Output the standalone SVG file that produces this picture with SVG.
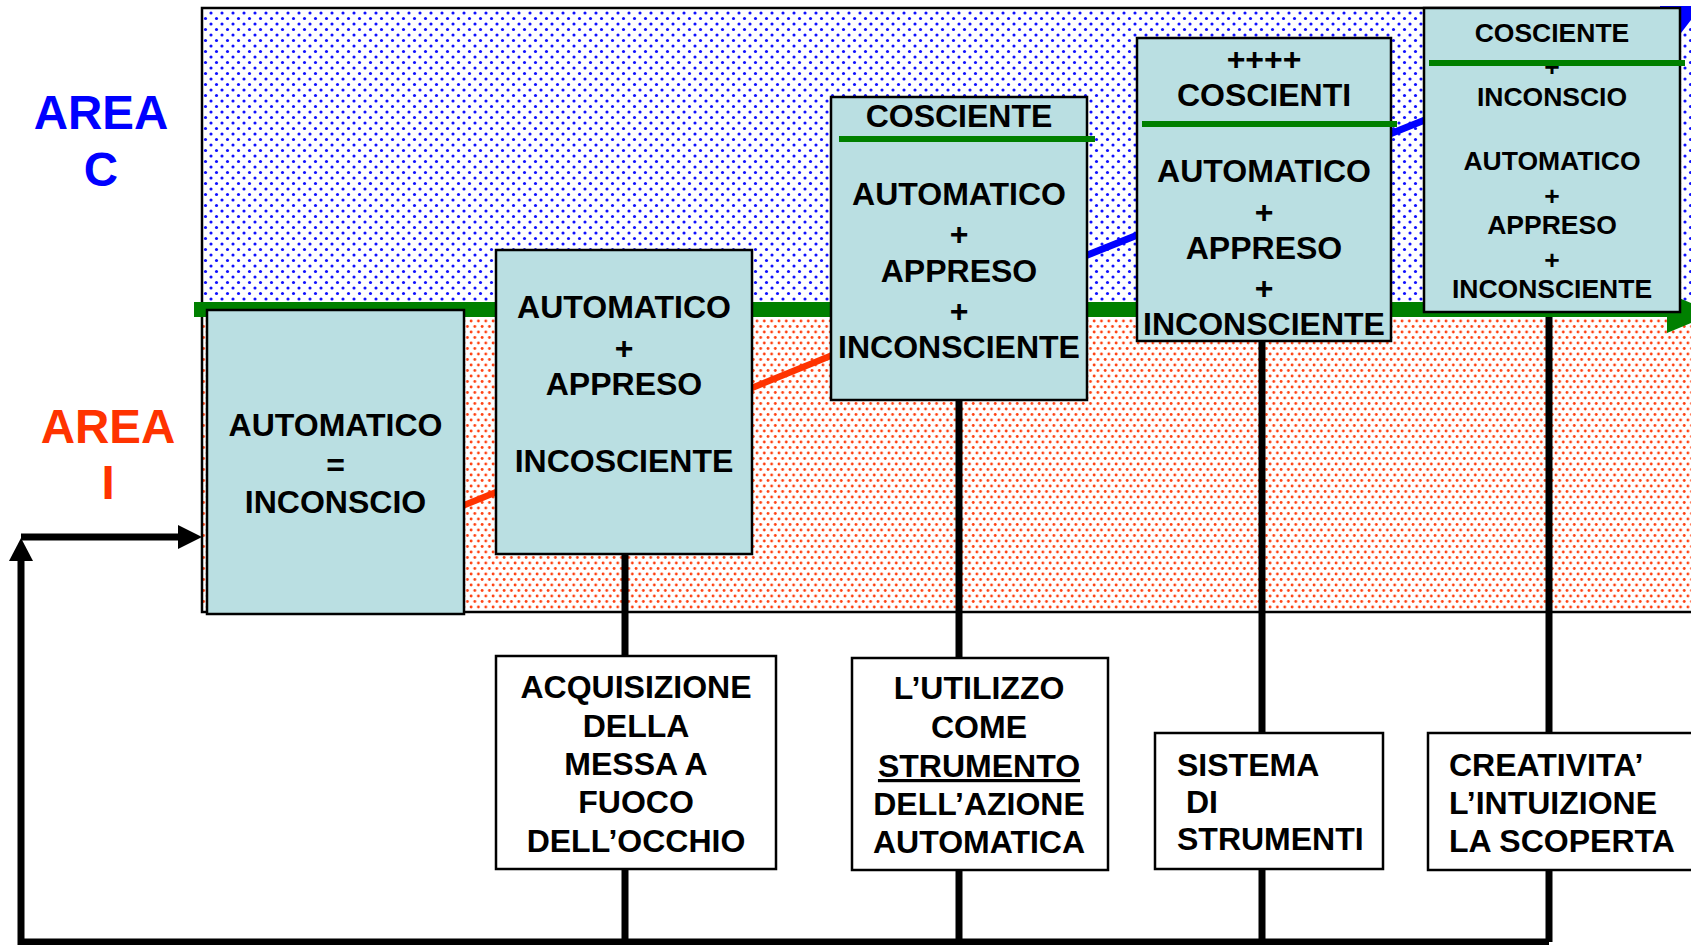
<svg xmlns="http://www.w3.org/2000/svg" width="1691" height="945" viewBox="0 0 1691 945">
<defs>
<pattern id="dotsBlue" patternUnits="userSpaceOnUse" width="11" height="11">
<rect width="11" height="11" fill="#ffffff"/>
<circle cx="2" cy="2" r="1.55" fill="#1010ff"/>
<circle cx="7.5" cy="7.5" r="1.55" fill="#1010ff"/>
</pattern>
<pattern id="dotsRed" patternUnits="userSpaceOnUse" width="7.33" height="11">
<rect width="7.33" height="11" fill="#ffffff"/>
<circle cx="2" cy="2" r="1.4" fill="#ff4010"/>
<circle cx="5.67" cy="7.5" r="1.4" fill="#ff4010"/>
</pattern>
</defs>
<style>
text{font-family:"Liberation Sans",Arial,sans-serif;font-weight:bold;fill:#000;}
.big{font-size:32px;text-anchor:middle;}
.sm{font-size:26.5px;text-anchor:middle;}
.lab{font-size:32px;}
.area{font-size:47.5px;text-anchor:middle;}
.tbox{fill:#badfe2;stroke:#000;stroke-width:2.5;}
.bbox{fill:#ffffff;stroke:#000;stroke-width:2.5;}
.sep{stroke:#008000;stroke-width:6;}
.vline{stroke:#000;stroke-width:7;fill:none;}
</style>

<g id="areas">
<rect x="202" y="8" width="1500" height="302" fill="url(#dotsBlue)"/>
<rect x="202" y="310" width="1500" height="302" fill="url(#dotsRed)"/>
<rect x="202" y="8" width="1500" height="604" fill="none" stroke="#000" stroke-width="2.5"/>
<text class="area" x="101" y="129" style="fill:#0000ff">AREA</text>
<text class="area" x="101" y="186" style="fill:#0000ff">C</text>
<text class="area" x="108" y="443" style="fill:#ff3300">AREA</text>
<text class="area" x="108" y="499" style="fill:#ff3300">I</text>
</g>

<g id="connectors">
<line class="vline" x1="625" y1="554" x2="625" y2="942"/>
<line class="vline" x1="959" y1="400" x2="959" y2="942"/>
<line class="vline" x1="1262" y1="341" x2="1262" y2="942"/>
<line class="vline" x1="1549" y1="312" x2="1549" y2="942"/>
<polyline class="vline" points="1549,942 21,942 21,560"/>
<polygon points="9,561 21,538 33,561" fill="#000"/>
<line x1="21" y1="537" x2="180" y2="537" stroke="#000" stroke-width="7"/>
<polygon points="178,525 202,537 178,549" fill="#000"/>
<line x1="194" y1="309.5" x2="1670" y2="309.5" stroke="#008000" stroke-width="15"/>
<polygon points="1667,293 1715,313 1667,333" fill="#008000"/>
<line x1="440" y1="515" x2="850" y2="348" stroke="#ff3300" stroke-width="6.5"/>
<line x1="1050" y1="270" x2="1680" y2="18" stroke="#0000ff" stroke-width="7"/>
<polygon points="1660,6 1691,6 1691,20 1681,33 1660,33" fill="#0000ff"/>
</g>

<g id="node1">
<rect class="tbox" x="207" y="310" width="257" height="304"/>
<text class="big" x="335.5" y="436">AUTOMATICO</text>
<text class="big" x="335.5" y="476">=</text>
<text class="big" x="335.5" y="513">INCONSCIO</text>
</g>

<g id="node2">
<rect class="tbox" x="496" y="250" width="256" height="304"/>
<text class="big" x="624" y="318">AUTOMATICO</text>
<text class="big" x="624" y="359">+</text>
<text class="big" x="624" y="395">APPRESO</text>
<text class="big" x="624" y="472">INCOSCIENTE</text>
</g>

<g id="node3">
<rect class="tbox" x="831" y="97" width="256" height="303"/>
<text class="big" x="959" y="127">COSCIENTE</text>
<line class="sep" x1="839" y1="139" x2="1095" y2="139"/>
<text class="big" x="959" y="205">AUTOMATICO</text>
<text class="big" x="959" y="245">+</text>
<text class="big" x="959" y="282">APPRESO</text>
<text class="big" x="959" y="322">+</text>
<text class="big" x="959" y="358">INCONSCIENTE</text>
</g>

<g id="node4">
<rect class="tbox" x="1137" y="38" width="254" height="303"/>
<text class="big" x="1264" y="70">++++</text>
<text class="big" x="1264" y="106">COSCIENTI</text>
<line class="sep" x1="1142" y1="124" x2="1397" y2="124"/>
<text class="big" x="1264" y="182">AUTOMATICO</text>
<text class="big" x="1264" y="223">+</text>
<text class="big" x="1264" y="259">APPRESO</text>
<text class="big" x="1264" y="299">+</text>
<text class="big" x="1264" y="335">INCONSCIENTE</text>
</g>

<g id="node5">
<rect class="tbox" x="1424" y="8" width="256" height="304"/>
<text class="sm" x="1552" y="42">COSCIENTE</text>
<text class="sm" x="1552" y="76">+</text>
<line class="sep" x1="1429" y1="63" x2="1685" y2="63"/>
<text class="sm" x="1552" y="106">INCONSCIO</text>
<text class="sm" x="1552" y="170">AUTOMATICO</text>
<text class="sm" x="1552" y="205">+</text>
<text class="sm" x="1552" y="234">APPRESO</text>
<text class="sm" x="1552" y="269">+</text>
<text class="sm" x="1552" y="298">INCONSCIENTE</text>
</g>

<g id="label1">
<rect class="bbox" x="496" y="656" width="280" height="213"/>
<text class="big" x="636" y="698">ACQUISIZIONE</text>
<text class="big" x="636" y="737">DELLA</text>
<text class="big" x="636" y="775">MESSA A</text>
<text class="big" x="636" y="813">FUOCO</text>
<text class="big" x="636" y="852">DELL’OCCHIO</text>
</g>

<g id="label2">
<rect class="bbox" x="852" y="658" width="256" height="212"/>
<text class="big" x="979" y="699">L’UTILIZZO</text>
<text class="big" x="979" y="738">COME</text>
<text class="big" x="979" y="777" text-decoration="underline">STRUMENTO</text>
<text class="big" x="979" y="815">DELL’AZIONE</text>
<text class="big" x="979" y="853">AUTOMATICA</text>
</g>

<g id="label3">
<rect class="bbox" x="1155" y="733" width="228" height="136"/>
<text class="lab" x="1177" y="776">SISTEMA</text>
<text class="lab" x="1177" y="813" xml:space="preserve"> DI</text>
<text class="lab" x="1177" y="850">STRUMENTI</text>
</g>

<g id="label4">
<rect class="bbox" x="1428" y="733" width="280" height="137"/>
<text class="lab" x="1449" y="776">CREATIVITA’</text>
<text class="lab" x="1449" y="814">L’INTUIZIONE</text>
<text class="lab" x="1449" y="852">LA SCOPERTA</text>
</g>
</svg>
